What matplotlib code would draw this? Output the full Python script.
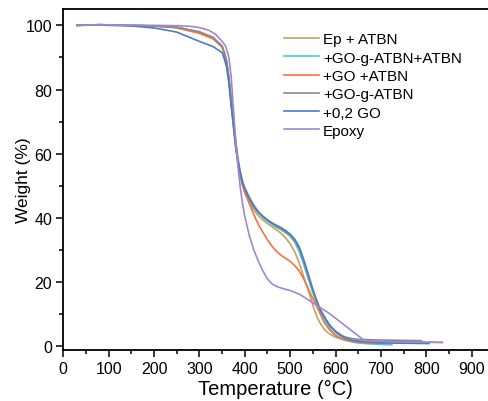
import matplotlib
matplotlib.use("Agg")
import matplotlib.pyplot as plt
from matplotlib.ticker import MultipleLocator

plt.rcParams['font.family'] = ['Liberation Sans', 'DejaVu Sans']

# TGA curves (temperature in C, weight in %)
labels = ["Ep + ATBN", "+GO-g-ATBN+ATBN", "+GO +ATBN", "+GO-g-ATBN", "+0,2 GO", "Epoxy"]
colors = ["#C9A15A", "#4CC9D3", "#F5733C", "#8A8A8A", "#4A7CC9", "#A386CF"]

t_ep_atbn = [30, 80, 150, 200, 250, 300, 330, 350, 355, 360, 365, 370, 375, 380, 385, 390, 395, 400, 410, 420, 430, 440, 450, 460,
             470, 480, 490, 500, 510, 520, 528, 535, 541, 546, 553, 561, 568, 575, 582, 590, 600, 610, 625, 640, 670, 700, 836]
w_ep_atbn = [100, 100.2, 100, 99.8, 99.4, 97.8, 96, 93.5, 91.5, 88.5, 83, 76, 69, 62.5, 57, 53, 50, 48, 45, 42.5, 40.7, 39.4, 38.3, 37.3,
             36.3, 35.2, 33.8, 32, 29.5, 26, 22.5, 19.5, 17, 14.8, 11.5, 8.6, 6.8, 5.4, 4.4, 3.6, 2.9, 2.4, 1.9, 1.7, 1.6, 1.5, 1.2]

t_go_g_atbn_atbn = [30, 80, 150, 200, 250, 300, 330, 350, 355, 360, 365, 370, 375, 380, 385, 390, 395, 400, 410, 420, 430, 440, 450, 460,
                    470, 480, 490, 500, 510, 520, 530, 540, 548, 555, 565, 575, 582, 590, 598, 605, 615, 625, 640, 650, 670, 690, 724]
w_go_g_atbn_atbn = [100, 100.2, 100, 99.8, 99.4, 97.9, 96.2, 93.5, 91.5, 88.5, 83.5, 77, 70, 63.5, 58, 54, 51, 49, 46, 43.5, 41.6, 40.2, 39, 38,
                    37.1, 36.3, 35.4, 34.3, 32.5, 29.5, 25.5, 21, 17.5, 14.8, 11.3, 8.6, 6.8, 5, 3.8, 3, 2.2, 1.8, 1.3, 1.1, 0.85, 0.7, 0.5]

t_go_atbn = [30, 80, 150, 200, 250, 300, 330, 350, 355, 360, 365, 370, 375, 380, 385, 390, 395, 400, 410, 420, 430, 440, 450, 460,
             470, 480, 490, 500, 510, 520, 530, 540, 548, 555, 565, 575, 585, 595, 605, 615, 630, 640, 670, 710]
w_go_atbn = [100, 100.2, 100, 99.8, 99.2, 97.5, 95.8, 93.2, 91, 88, 82.5, 76, 69, 62, 57, 53.5, 50.5, 48, 44.5, 41, 38, 35.5, 33.2, 31.2,
             29.6, 28.4, 27.4, 26.5, 25.2, 23.5, 21, 18, 15.5, 13.5, 10.5, 7.5, 5.5, 4, 3, 2.3, 1.7, 1.5, 1.1, 1.0]

t_go_g_atbn = [30, 80, 150, 200, 250, 300, 330, 350, 355, 360, 365, 370, 375, 380, 385, 390, 395, 400, 410, 420, 430, 440, 450, 460,
               470, 480, 490, 500, 510, 520, 530, 540, 549, 557, 567, 578, 588, 600, 610, 620, 635, 650, 700, 790]
w_go_g_atbn = [100, 100.2, 100, 99.8, 99.4, 98, 96.3, 93.5, 91.5, 89, 84, 77, 70.5, 64, 58.5, 54.5, 51.5, 49.5, 46.5, 44, 42, 40.5, 39.3, 38.3,
               37.4, 36.6, 35.7, 34.6, 33, 30.5, 26.5, 22, 18, 14.8, 11.3, 8.6, 6.5, 4.8, 3.8, 3, 2.5, 2.2, 2, 1.8]

t_go02 = [30, 80, 150, 200, 250, 300, 330, 350, 355, 360, 365, 370, 375, 380, 385, 390, 395, 400, 410, 420, 430, 440, 450, 460,
          470, 480, 490, 500, 510, 520, 530, 540, 549, 557, 567, 578, 588, 600, 610, 620, 635, 650, 700, 806]
w_go02 = [100, 100.1, 99.8, 99.2, 97.9, 95, 93.4, 91.5, 89.5, 87, 82, 75, 68.5, 62, 57.5, 54, 51, 49, 46, 43.5, 41.8, 40.5, 39.4, 38.5,
          37.7, 37, 36.1, 35, 33.4, 31, 27, 22.5, 18.2, 14.8, 11.2, 8.6, 6.3, 4.5, 3.4, 2.6, 2, 1.6, 1.1, 0.9]

t_epoxy = [30, 80, 150, 200, 250, 280, 300, 320, 335, 350, 358, 365, 370, 375, 380, 385, 390, 395, 400, 410, 420, 430, 440, 450,
           460, 470, 480, 500, 520, 537, 588, 664, 700, 834]
w_epoxy = [100, 100.2, 100, 100, 99.9, 99.7, 99.3, 98.5, 97.3, 95, 93.5, 90, 84, 74, 64, 56, 49.5, 44.5, 40.5, 34.5, 30, 26.5, 23.5, 21,
           19.5, 18.7, 18.2, 17.4, 16.3, 14.8, 10.1, 1.8, 1.6, 1.3]

series = [
    (t_ep_atbn, w_ep_atbn),
    (t_go_g_atbn_atbn, w_go_g_atbn_atbn),
    (t_go_atbn, w_go_atbn),
    (t_go_g_atbn, w_go_g_atbn),
    (t_go02, w_go02),
    (t_epoxy, w_epoxy),
]

fig = plt.figure(figsize=(4.88, 4.02), dpi=100)
ax = fig.add_axes([0.1297, 0.1269, 0.8703, 0.8475])

for (t, w), lab, c in zip(series, labels, colors):
    ax.plot(t, w, color=c, lw=1.2, label=lab)

ax.set_xlim(0, 936)
ax.set_ylim(-1.1, 105)
ax.xaxis.set_major_locator(MultipleLocator(100))
ax.xaxis.set_minor_locator(MultipleLocator(50))
ax.yaxis.set_major_locator(MultipleLocator(20))
ax.yaxis.set_minor_locator(MultipleLocator(10))
ax.tick_params(which='major', direction='out', length=5, width=1.1, labelsize=11.5, pad=3)
ax.tick_params(which='minor', direction='out', length=3, width=1.1)
ax.spines['right'].set_visible(False)
for s in ['left', 'bottom', 'top']:
    ax.spines[s].set_linewidth(1.3)

ax.set_xlabel("Temperature (°C)", fontsize=14.5, labelpad=2)
ax.set_ylabel("Weight (%)", fontsize=12.5, labelpad=-4)

ax.legend(loc='upper left', bbox_to_anchor=(0.505, 0.95), frameon=False, fontsize=11,
          handlelength=2.3, handletextpad=0.25, labelspacing=0.28, borderaxespad=0)

fig.savefig("out.png", dpi=100)
